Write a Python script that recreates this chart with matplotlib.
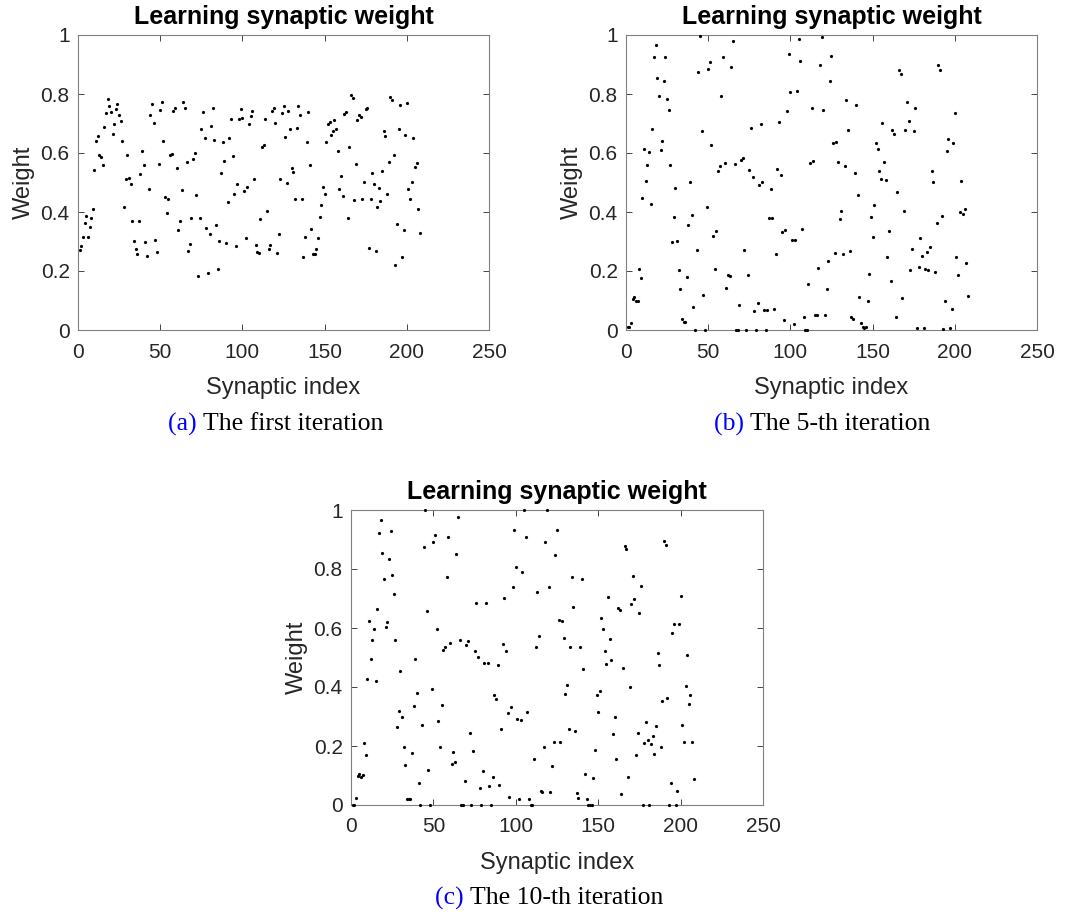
import numpy as np
import matplotlib
matplotlib.use('Agg')
import matplotlib.pyplot as plt

# weights after the first iteration
w_iter1 = [
    0.271, 0.285, 0.314, 0.362, 0.386, 0.316, 0.348, 0.380, 0.411, 0.542,
    0.642, 0.658, 0.594, 0.585, 0.559, 0.689, 0.734, 0.782, 0.759, 0.739,
    0.664, 0.698, 0.748, 0.766, 0.728, 0.708, 0.642, 0.418, 0.511, 0.594,
    0.516, 0.495, 0.368, 0.301, 0.275, 0.258, 0.368, 0.528, 0.607, 0.558,
    0.299, 0.251, 0.479, 0.728, 0.766, 0.701, 0.305, 0.263, 0.563, 0.746,
    0.773, 0.641, 0.450, 0.397, 0.443, 0.592, 0.597, 0.742, 0.753, 0.548,
    0.338, 0.371, 0.475, 0.773, 0.753, 0.569, 0.269, 0.293, 0.380, 0.580,
    0.601, 0.459, 0.183, 0.381, 0.682, 0.739, 0.650, 0.347, 0.194, 0.325,
    0.690, 0.753, 0.644, 0.355, 0.206, 0.301, 0.531, 0.636, 0.572, 0.296,
    0.433, 0.651, 0.714, 0.590, 0.461, 0.285, 0.495, 0.714, 0.750, 0.719,
    0.472, 0.312, 0.486, 0.697, 0.724, 0.744, 0.512, 0.287, 0.263, 0.262,
    0.375, 0.621, 0.626, 0.715, 0.405, 0.275, 0.288, 0.744, 0.753, 0.701,
    0.260, 0.325, 0.511, 0.734, 0.759, 0.654, 0.500, 0.742, 0.682, 0.548,
    0.537, 0.443, 0.685, 0.760, 0.730, 0.443, 0.249, 0.314, 0.638, 0.739,
    0.560, 0.341, 0.256, 0.258, 0.275, 0.312, 0.384, 0.425, 0.486, 0.460,
    0.638, 0.698, 0.706, 0.662, 0.673, 0.712, 0.681, 0.608, 0.479, 0.521,
    0.455, 0.732, 0.738, 0.379, 0.619, 0.795, 0.785, 0.441, 0.564, 0.712,
    0.728, 0.723, 0.443, 0.502, 0.748, 0.753, 0.278, 0.445, 0.533, 0.495,
    0.269, 0.418, 0.481, 0.438, 0.538, 0.676, 0.658, 0.461, 0.568, 0.789,
    0.780, 0.592, 0.221, 0.359, 0.680, 0.762, 0.247, 0.339, 0.662, 0.768,
    0.479, 0.443, 0.502, 0.651, 0.554, 0.565, 0.411, 0.328,
]

# weights after the 5-th iteration
w_iter5 = [
    0.010, 0.010, 0.025, 0.104, 0.113, 0.097, 0.099, 0.207, 0.177, 0.449,
    0.615, 0.504, 0.561, 0.602, 0.426, 0.682, 0.926, 0.965, 0.854, 0.793,
    0.609, 0.641, 0.843, 0.926, 0.784, 0.747, 0.561, 0.299, 0.383, 0.483,
    0.301, 0.205, 0.138, 0.038, 0.026, 0.026, 0.180, 0.356, 0.501, 0.391,
    0.077, 0.000, 0.272, 0.873, 0.997, 0.675, 0.119, 0.000, 0.416, 0.884,
    0.908, 0.627, 0.319, 0.206, 0.335, 0.538, 0.555, 0.794, 0.926, 0.566,
    0.144, 0.185, 0.183, 0.892, 0.980, 0.564, 0.000, 0.000, 0.086, 0.576,
    0.582, 0.272, 0.000, 0.187, 0.544, 0.685, 0.518, 0.063, 0.000, 0.091,
    0.491, 0.700, 0.501, 0.069, 0.000, 0.069, 0.380, 0.477, 0.380, 0.070,
    0.259, 0.546, 0.705, 0.526, 0.331, 0.034, 0.339, 0.743, 0.935, 0.807,
    0.304, 0.020, 0.304, 0.809, 0.987, 0.912, 0.343, 0.045, 0.000, 0.000,
    0.157, 0.566, 0.751, 0.572, 0.050, 0.050, 0.209, 0.900, 0.994, 0.745,
    0.050, 0.139, 0.234, 0.843, 0.929, 0.634, 0.262, 0.636, 0.570, 0.375,
    0.405, 0.258, 0.556, 0.779, 0.677, 0.267, 0.043, 0.038, 0.532, 0.763,
    0.458, 0.111, 0.025, 0.009, 0.006, 0.009, 0.099, 0.190, 0.383, 0.315,
    0.425, 0.634, 0.615, 0.538, 0.513, 0.701, 0.570, 0.507, 0.247, 0.337,
    0.166, 0.677, 0.664, 0.045, 0.469, 0.880, 0.869, 0.108, 0.404, 0.677,
    0.772, 0.709, 0.204, 0.274, 0.674, 0.754, 0.006, 0.213, 0.311, 0.251,
    0.006, 0.208, 0.263, 0.204, 0.283, 0.539, 0.503, 0.197, 0.362, 0.898,
    0.883, 0.386, 0.005, 0.100, 0.606, 0.646, 0.007, 0.072, 0.634, 0.737,
    0.246, 0.187, 0.400, 0.506, 0.393, 0.409, 0.226, 0.114,
]

# weights after the 10-th iteration
w_iter10 = [
    0.000, 0.000, 0.023, 0.098, 0.105, 0.094, 0.102, 0.211, 0.169, 0.427,
    0.623, 0.495, 0.559, 0.598, 0.421, 0.664, 0.923, 0.966, 0.855, 0.765,
    0.605, 0.621, 0.833, 0.928, 0.780, 0.715, 0.559, 0.266, 0.318, 0.455,
    0.297, 0.195, 0.134, 0.021, 0.021, 0.021, 0.175, 0.336, 0.495, 0.380,
    0.076, 0.000, 0.272, 0.876, 1.000, 0.659, 0.119, 0.000, 0.393, 0.892,
    0.916, 0.598, 0.284, 0.198, 0.338, 0.525, 0.534, 0.772, 0.910, 0.548,
    0.139, 0.180, 0.146, 0.851, 0.977, 0.559, 0.000, 0.000, 0.080, 0.544,
    0.555, 0.243, 0.000, 0.182, 0.521, 0.684, 0.503, 0.059, 0.000, 0.116,
    0.482, 0.684, 0.480, 0.064, 0.000, 0.096, 0.374, 0.360, 0.475, 0.067,
    0.256, 0.546, 0.701, 0.521, 0.311, 0.026, 0.331, 0.738, 0.932, 0.806,
    0.290, 0.019, 0.288, 0.790, 1.000, 0.910, 0.315, 0.019, 0.000, 0.000,
    0.155, 0.536, 0.722, 0.574, 0.046, 0.044, 0.198, 0.892, 1.000, 0.740,
    0.044, 0.132, 0.215, 0.847, 0.932, 0.627, 0.214, 0.625, 0.566, 0.376,
    0.407, 0.256, 0.534, 0.774, 0.671, 0.252, 0.040, 0.024, 0.534, 0.766,
    0.462, 0.106, 0.020, 0.000, 0.000, 0.000, 0.092, 0.185, 0.374, 0.315,
    0.388, 0.633, 0.595, 0.523, 0.477, 0.704, 0.564, 0.493, 0.241, 0.298,
    0.155, 0.667, 0.661, 0.038, 0.463, 0.878, 0.867, 0.096, 0.400, 0.680,
    0.775, 0.699, 0.168, 0.243, 0.650, 0.742, 0.000, 0.211, 0.280, 0.220,
    0.000, 0.206, 0.234, 0.173, 0.268, 0.514, 0.476, 0.195, 0.354, 0.895,
    0.881, 0.363, 0.000, 0.076, 0.582, 0.615, 0.000, 0.049, 0.614, 0.708,
    0.272, 0.214, 0.403, 0.507, 0.342, 0.372, 0.214, 0.089,
]

x_ticks = [0, 50, 100, 150, 200, 250]
y_ticks = [0, 0.2, 0.4, 0.6, 0.8, 1]
y_tick_labels = ['0', '0.2', '0.4', '0.6', '0.8', '1']

panel_tags = ['(a)', '(b)', '(c)']
panel_captions = ['The first iteration', 'The 5-th iteration', 'The 10-th iteration']

W, H = 1065, 917
fig = plt.figure(figsize=(W / 100, H / 100), dpi=100)

gray = '#262626'
sans = 'Liberation Sans'
serif = 'Liberation Serif'

# axes boxes in pixels: left, top, right, bottom
boxes = [(78, 35, 489, 330), (626, 35, 1037, 330), (351, 510, 763, 805)]
caption_pos = [(276, 424), (822, 424), (549, 898)]


def draw_panel(box, weights):
    l, t, r, b = box
    ax = fig.add_axes([l / W, 1 - b / H, (r - l) / W, (b - t) / H])
    idx = np.arange(1, len(weights) + 1)
    ax.plot(idx, weights, 'o', color='k', markersize=2.3, markeredgewidth=0,
            clip_on=False, zorder=3)
    ax.set_xlim(0, 250)
    ax.set_ylim(0, 1)
    ax.set_xticks(x_ticks)
    ax.set_yticks(y_ticks)
    ax.set_yticklabels(y_tick_labels)
    ax.tick_params(direction='in', length=4, width=0.6, colors=gray,
                   labelsize=15, top=True, right=True)
    ax.tick_params(axis='x', pad=9)
    ax.tick_params(axis='y', pad=6)
    for lab in ax.get_xticklabels() + ax.get_yticklabels():
        lab.set_fontfamily(sans)
    for sp in ax.spines.values():
        sp.set_color('#808080')
        sp.set_linewidth(0.8)
    ax.set_xlabel('Synaptic index', fontsize=17, family=sans, color=gray,
                  labelpad=11)
    ax.set_ylabel('Weight', fontsize=17, family=sans, color=gray, labelpad=4)
    ax.set_title('Learning synaptic weight', fontsize=18, family=sans,
                 fontweight='bold', color='k', pad=8)
    return ax


for box, weights in zip(boxes, [w_iter1, w_iter5, w_iter10]):
    draw_panel(box, weights)

# subfigure captions, tag in blue
for (cx, cy), tag, cap in zip(caption_pos, panel_tags, panel_captions):
    t1 = fig.text(0, 0, tag + ' ', fontsize=18.5, family=serif, color='#0000ff')
    t2 = fig.text(0, 0, cap, fontsize=18.5, family=serif, color='k')
    fig.canvas.draw()
    rend = fig.canvas.get_renderer()
    w1 = t1.get_window_extent(rend).width
    w2 = t2.get_window_extent(rend).width
    x0 = cx - (w1 + w2) / 2
    t1.set_position((x0 / W, 1 - cy / H))
    t2.set_position(((x0 + w1) / W, 1 - cy / H))
    t1.set_va('center')
    t2.set_va('center')

fig.savefig('out.png', dpi=100)
